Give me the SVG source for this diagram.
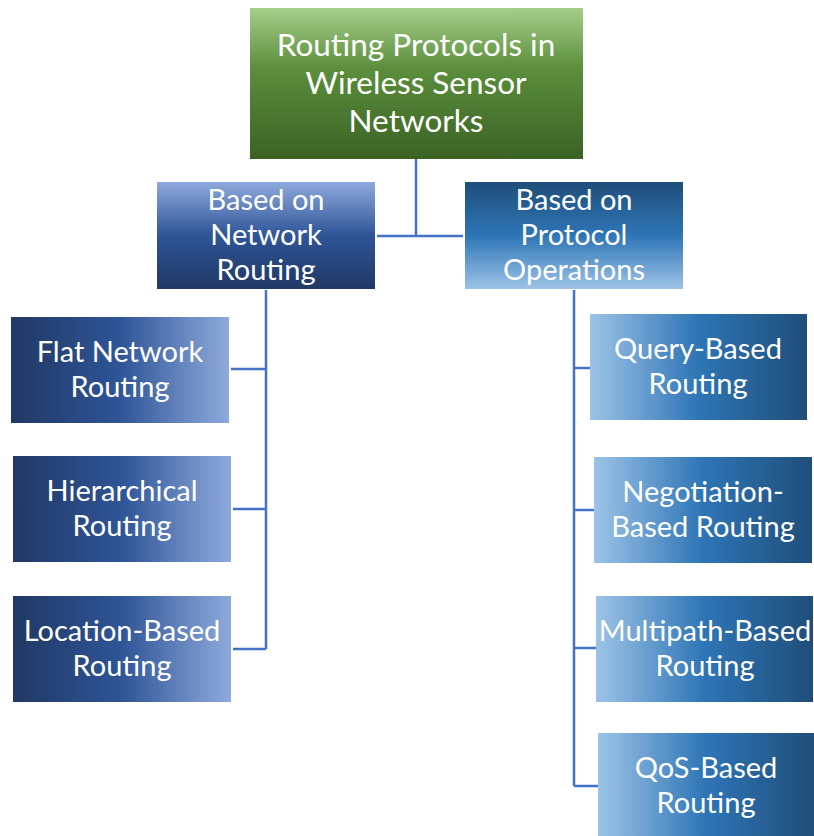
<svg xmlns="http://www.w3.org/2000/svg" width="814" height="836" viewBox="0 0 814 836">
<defs>
<linearGradient id="gRoot" x1="0" y1="0" x2="0" y2="1">
<stop offset="0" stop-color="#a5ce8a"/><stop offset="0.4" stop-color="#5b8e3c"/><stop offset="1" stop-color="#3b6224"/>
</linearGradient>
<linearGradient id="gNet" x1="0" y1="0" x2="0" y2="1">
<stop offset="0" stop-color="#8eaadc"/><stop offset="0.5" stop-color="#2f5597"/><stop offset="1" stop-color="#203864"/>
</linearGradient>
<linearGradient id="gOps" x1="0" y1="0" x2="0" y2="1">
<stop offset="0" stop-color="#1f4e79"/><stop offset="0.5" stop-color="#2e75b6"/><stop offset="1" stop-color="#9dc3e6"/>
</linearGradient>
<linearGradient id="gLeft" x1="0" y1="0" x2="1" y2="0">
<stop offset="0" stop-color="#203864"/><stop offset="0.5" stop-color="#2f5597"/><stop offset="1" stop-color="#8eaadc"/>
</linearGradient>
<linearGradient id="gRight" x1="0" y1="0" x2="1" y2="0">
<stop offset="0" stop-color="#9dc3e6"/><stop offset="0.5" stop-color="#2e75b6"/><stop offset="1" stop-color="#1f4e79"/>
</linearGradient>
</defs>
<style>
text{font-family:Lato,"Open Sans","Liberation Sans",sans-serif;fill:#ffffff;text-anchor:middle;font-size:29px}
.root text{font-size:31.5px}
.conn{stroke:#4472c4;stroke-width:2.5;fill:none}
</style>
<g id="connectors">
<path class="conn" d="M416,159 V236 M377,236 H463"/>
<path class="conn" d="M266,290 V649 M231,369 H266 M233,509 H266 M233,649 H266"/>
<path class="conn" d="M574,290 V786 M574,368 H590 M574,510 H594 M574,648 H596 M574,786 H598"/>
</g>
<g id="root" class="root">
<rect x="250" y="8" width="333" height="151" fill="url(#gRoot)"/>
<text x="416" y="56">Routing Protocols in</text>
<text x="416" y="94">Wireless Sensor</text>
<text x="416" y="132">Networks</text>
</g>
<g id="network">
<rect x="157" y="182" width="218" height="107" fill="url(#gNet)"/>
<text x="266" y="210">Based on</text>
<text x="266" y="245">Network</text>
<text x="266" y="280">Routing</text>
</g>
<g id="operations">
<rect x="465" y="182" width="218" height="107" fill="url(#gOps)"/>
<text x="574" y="210">Based on</text>
<text x="574" y="245">Protocol</text>
<text x="574" y="280">Operations</text>
</g>
<g id="flat">
<rect x="11" y="317" width="218" height="106" fill="url(#gLeft)"/>
<text x="120" y="362">Flat Network</text>
<text x="120" y="397">Routing</text>
</g>
<g id="hierarchical">
<rect x="13" y="456" width="218" height="106" fill="url(#gLeft)"/>
<text x="122" y="501">Hierarchical</text>
<text x="122" y="536">Routing</text>
</g>
<g id="location">
<rect x="13" y="596" width="218" height="106" fill="url(#gLeft)"/>
<text x="122" y="641">Location-Based</text>
<text x="122" y="676">Routing</text>
</g>
<g id="query">
<rect x="590" y="314" width="217" height="106" fill="url(#gRight)"/>
<text x="698" y="359">Query-Based</text>
<text x="698" y="394">Routing</text>
</g>
<g id="negotiation">
<rect x="594" y="457" width="218" height="106" fill="url(#gRight)"/>
<text x="703" y="502">Negotiation-</text>
<text x="703" y="537">Based Routing</text>
</g>
<g id="multipath">
<rect x="596" y="596" width="217" height="106" fill="url(#gRight)"/>
<text x="705" y="641">Multipath-Based</text>
<text x="705" y="676">Routing</text>
</g>
<g id="qos">
<rect x="598" y="733" width="216" height="106" fill="url(#gRight)"/>
<text x="706" y="778">QoS-Based</text>
<text x="706" y="813">Routing</text>
</g>
</svg>
